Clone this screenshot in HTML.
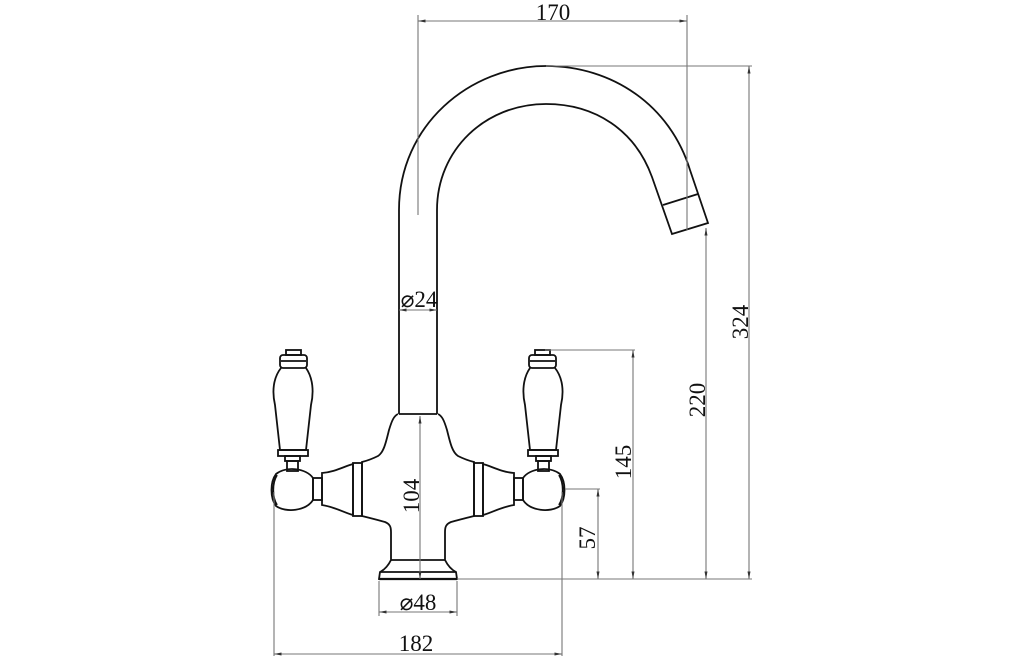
<!DOCTYPE html>
<html><head><meta charset="utf-8"><style>
html,body{margin:0;padding:0;background:#fff;}
svg{display:block;}
text{font-family:"Liberation Serif",serif;font-size:23px;fill:#111;}
</style></head><body>
<svg width="1024" height="657" viewBox="0 0 1024 657" xmlns="http://www.w3.org/2000/svg">
<defs>
<marker id="a" viewBox="0 0 10 10" refX="10" refY="5" markerWidth="7" markerHeight="7" orient="auto-start-reverse"><path d="M0,3 L10,5 L0,7 z" fill="#333"/></marker>
<g id="side" fill="none" stroke="#111" stroke-width="1.8">
  <rect x="286" y="350" width="15" height="5"/>
  <rect x="280" y="355" width="27" height="13" rx="3"/>
  <line x1="281" y1="361" x2="306" y2="361"/>
  <path d="M281,368 C273,378 272,392 275,405 L280,450 L306,450 L311,405 C314,392 313,378 306,368"/>
  <rect x="278" y="450" width="30" height="6"/>
  <rect x="285" y="456" width="15" height="5"/>
  <rect x="287" y="461" width="11" height="10"/>
  <path d="M313,478 C306,468 286,466 276,474 C270,482 270,498 276,506 C286,513 306,511 313,500 Z"/>
  <path d="M277,475 C272,483 272,497 277,505"/>
  <rect x="313" y="478" width="9" height="22"/>
  <path d="M322,473 C335,472 345,466 353,464 L353,515 C345,513 335,507 322,505 Z"/>
  <rect x="353" y="463" width="9" height="53"/>
</g>
</defs>

<path d="M399,414 L399,210 C399,125 470,66 546,66 C612,66 670,105 690,170 L708,223 L672,234 L652,177 C635,130 595,104 546,104 C485,104 437,150 437,210 L437,414" fill="none" stroke="#111" stroke-width="1.8"/>
<line x1="663" y1="205" x2="698" y2="194" stroke="#111" stroke-width="1.8"/>
<line x1="399" y1="414" x2="437" y2="414" stroke="#111" stroke-width="1.8"/>

<path d="M398,414 C394,416 392,420 389,430 C386,442 384,452 378,456 C372,459 366,461 362,462 L362,516 C370,518 378,520 385,522 C390,524 391,527 391,532 L391,560 C388,566 384,570 380,572 L379,579 L457,579 L456,572 C452,570 448,566 445,560 L445,532 C445,527 446,524 451,522 C458,520 466,518 474,516 L474,462 C470,461 464,459 458,456 C452,452 450,442 447,430 C444,420 442,416 438,414" fill="none" stroke="#111" stroke-width="1.8"/>
<line x1="391" y1="560" x2="445" y2="560" stroke="#111" stroke-width="1.8"/>
<line x1="380" y1="572" x2="456" y2="572" stroke="#111" stroke-width="1.8"/>
<line x1="379" y1="579" x2="457" y2="579" stroke="#111" stroke-width="2.2"/>

<use href="#side"/>
<use href="#side" transform="translate(836,0) scale(-1,1)"/>

<g stroke="#777" stroke-width="1.1" fill="none">
  <line x1="418" y1="15" x2="418" y2="215"/>
  <line x1="687" y1="15" x2="687" y2="230"/>
  <line x1="418" y1="21" x2="687" y2="21" marker-start="url(#a)" marker-end="url(#a)"/>
  <line x1="546" y1="66" x2="752" y2="66"/>
  <line x1="749" y1="66" x2="749" y2="579" marker-start="url(#a)" marker-end="url(#a)"/>
  <line x1="706" y1="228" x2="706" y2="579" marker-start="url(#a)" marker-end="url(#a)"/>
  <line x1="545" y1="350" x2="635" y2="350"/>
  <line x1="633" y1="350" x2="633" y2="579" marker-start="url(#a)" marker-end="url(#a)"/>
  <line x1="565" y1="489" x2="600" y2="489"/>
  <line x1="598" y1="489" x2="598" y2="579" marker-start="url(#a)" marker-end="url(#a)"/>
  <line x1="457" y1="579" x2="752" y2="579"/>
  <line x1="420" y1="416" x2="420" y2="579" marker-start="url(#a)" marker-end="url(#a)"/>
  <line x1="399" y1="310" x2="437" y2="310" marker-start="url(#a)" marker-end="url(#a)"/>
  <line x1="379" y1="581" x2="379" y2="616"/>
  <line x1="457" y1="581" x2="457" y2="616"/>
  <line x1="379" y1="612" x2="457" y2="612" marker-start="url(#a)" marker-end="url(#a)"/>
  <line x1="274" y1="492" x2="274" y2="656"/>
  <line x1="562" y1="492" x2="562" y2="656"/>
  <line x1="274" y1="654" x2="562" y2="654" marker-start="url(#a)" marker-end="url(#a)"/>
</g>

<text x="553" y="20" text-anchor="middle">170</text>
<text x="419" y="307" text-anchor="middle" font-size="21">⌀24</text>
<text x="418" y="610" text-anchor="middle" font-size="21">⌀48</text>
<text x="416" y="651" text-anchor="middle">182</text>
<text transform="translate(419,496) rotate(-90)" text-anchor="middle">104</text>
<text transform="translate(595,538) rotate(-90)" text-anchor="middle">57</text>
<text transform="translate(631,462) rotate(-90)" text-anchor="middle">145</text>
<text transform="translate(705,400) rotate(-90)" text-anchor="middle">220</text>
<text transform="translate(748,322) rotate(-90)" text-anchor="middle">324</text>
</svg>
</body></html>
